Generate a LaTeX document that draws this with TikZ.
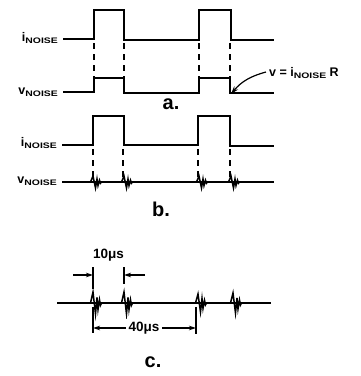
\documentclass[tikz,border=0pt]{standalone}
\usepackage{fontspec}
\setmainfont{Liberation Sans}
\usetikzlibrary{arrows.meta}
\newcommand\sub[1]{\raisebox{-0.35ex}{\scalebox{1.3}[1]{\fontsize{8}{9}\selectfont #1}}}
\newcommand\spk[3]{\draw[wave] ({#1-2.5},{#2}) -- ({#1},{#2-#3}) -- ({#1+2.5},{#2+#3}) -- ({#1+4},{#2-0.5*#3}) -- ({#1+5},{#2+0.6*#3}) -- ({#1+6.5},{#2-0.3*#3}) -- ({#1+7.5},{#2+0.2*#3}) -- ({#1+8.5},{#2});}
\begin{document}
\begin{tikzpicture}[x=1pt,y=-1pt,
  wave/.style={line width=1.5pt, line join=miter},
  guide/.style={line width=1.1pt, dash pattern=on 6pt off 5pt},
  lab/.style={font=\bfseries\fontsize{12.5}{14}\selectfont, inner sep=0pt},
  part/.style={font=\bfseries\fontsize{20}{23}\selectfont, inner sep=0pt},
  dim/.style={line width=1.2pt, -{Stealth[length=7pt,width=4.5pt]}},
  tick/.style={line width=1.2pt}]
\useasboundingbox (0,0) rectangle (361,376);
% ---------- a ----------
\node[lab, anchor=east] (ia) at (58,38) {i\sub{NOISE}};
\node[lab, anchor=east] (va) at (58,92) {v\sub{NOISE}};
\draw[wave] (63,39) -- (94,39) -- (94,10) -- (124,10) -- (124,40) -- (199,40) -- (199,10) -- (231,10) -- (231,40) -- (274,40);
\draw[wave] (63,92) -- (94,92) -- (94,78) -- (124,78) -- (124,93) -- (199,93) -- (199,78) -- (230,78) -- (230,93) -- (274,93);
\foreach \x in {94,124,199,230} \draw[guide] (\x,43) -- (\x,79);
\node[lab, anchor=west] (eq) at (269,73) {v = i\sub{NOISE} R};
\coordinate (corner) at (231,94);
\draw[line width=1.2pt, -{Stealth[length=8pt,width=5pt]}] (eq.west) ++(-3,-1) to[out=195, in=50] (corner);
\node[part] (la) at (171,104) {a.};
% ---------- b ----------
\node[lab, anchor=east] (ib) at (57,143) {i\sub{NOISE}};
\node[lab, anchor=east] (vb) at (57,181) {v\sub{NOISE}};
\draw[wave] (62,145) -- (93,145) -- (93,116) -- (124,116) -- (124,145) -- (198,145) -- (198,116) -- (230,116) -- (230,146) -- (274,146);
\foreach \x in {93,123,198,230} \draw[guide] (\x,149) -- (\x,177);
\draw[wave] (62,182) -- (274,182);
\spk{93}{182}{6}
\spk{124}{182}{6}
\spk{199}{182}{6}
\spk{231}{182}{6}
\node[part] (lb) at (161,209) {b.};
% ---------- c ----------
\draw[wave] (57,303) -- (271,303);
\spk{93}{303}{11}
\spk{124}{303}{11}
\spk{198}{303}{9}
\spk{233}{303}{10}
\coordinate (t1) at (93,267); \coordinate (t1b) at (93,289);
\coordinate (t2) at (124,267); \coordinate (t2b) at (124,284);
\draw[tick] (t1) -- (t1b);
\draw[tick] (t2) -- (t2b);
\node[font=\bfseries\fontsize{13.5}{15}\selectfont, inner sep=0pt] (ten) at (108.5,255) {10μs};
\coordinate (a1) at (73,275); \coordinate (a1e) at (93,275);
\coordinate (a2) at (145,275); \coordinate (a2e) at (124,275);
\draw[dim] (a1) -- (a1e);
\draw[dim] (a2) -- (a2e);
\coordinate (b1) at (93,307); \coordinate (b1b) at (93,333);
\coordinate (b2) at (196,307); \coordinate (b2b) at (196,334);
\draw[tick] (b1) -- (b1b);
\draw[tick] (b2) -- (b2b);
\node[font=\bfseries\fontsize{13.5}{15}\selectfont, inner sep=2.5pt, fill=white] (forty) at (144,328) {40μs};
\coordinate (m1) at (93,328); \coordinate (m2) at (196,328);
\draw[dim] (forty.west) -- (m1);
\draw[dim] (forty.east) -- (m2);
\node[part] (lc) at (153,362) {c.};
\end{tikzpicture}
\end{document}
